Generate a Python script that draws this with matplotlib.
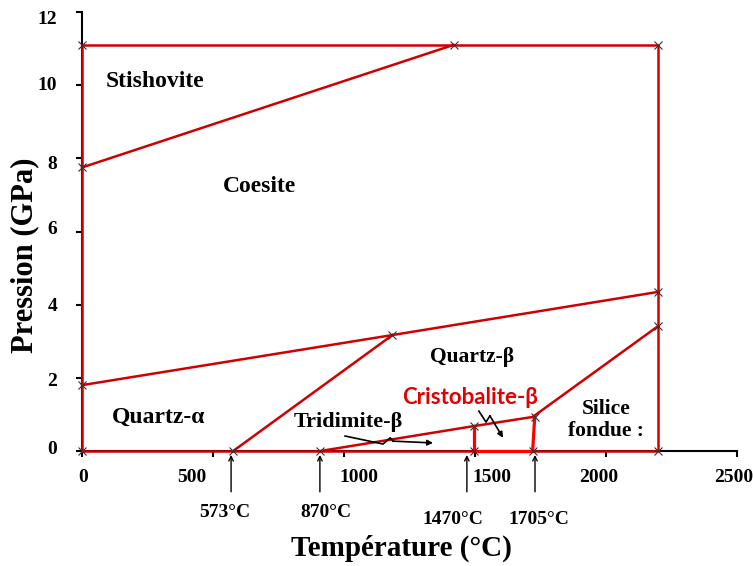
import matplotlib
matplotlib.use("Agg")
import matplotlib.pyplot as plt

# ---- data ----
x_ticks = [0, 500, 1000, 1500, 2000, 2500]
y_ticks = [0, 2, 4, 6, 8, 10, 12]

# phase boundaries (T in °C, P in GPa)
frame_T = [0, 0, 2200, 2200, 0]
frame_P = [0, 11.1, 11.1, 0, 0]
stish_coes_T = [0, 1418]
stish_coes_P = [7.75, 11.1]
coes_quartz_T = [0, 1185, 2200]
coes_quartz_P = [1.8, 3.17, 4.35]
qa_qb_T = [577, 1185]
qa_qb_P = [0, 3.17]
trid_T = [910, 1495, 1720]
trid_P = [0, 0.68, 0.93]
fondue_T = [1720, 2200]
fondue_P = [0.93, 3.42]
crist_left_T = [1495, 1495]
crist_left_P = [0, 0.68]
crist_right_T = [1720, 1728]
crist_right_P = [0, 0.93]
crist_base_T = [1495, 1720]
crist_base_P = [0, 0]

marker_T = [0, 1418, 2200, 0, 0, 2200, 1185, 2200, 2200, 577, 910, 1495, 1495, 1720, 1728, 0]
marker_P = [11.1, 11.1, 11.1, 7.75, 1.8, 4.35, 3.17, 3.42, 0, 0, 0, 0, 0.68, 0, 0.93, 0]

arrow_T = [569, 908, 1469, 1729]
arrow_labels = ["573°C", "870°C", "1470°C", "1705°C"]
arrow_label_T = [546, 931, 1416, 1744]

phase_names = ["Stishovite", "Coesite", "Quartz-β", "Quartz-α", "Silice\nfondue :"]
phase_T = [279, 679, 1489, 294, 2000]
phase_P = [10.09, 7.22, 2.57, 0.93, 0.85]
phase_size = [17, 17, 15.5, 17, 15.5]

trid_squiggle_T = [1004, 1149, 1176, 1187]
trid_squiggle_P = [0.41, 0.19, 0.36, 0.27]
trid_arrow_tip = (1340, 0.22)
crist_squiggle_T = [1515, 1542, 1557]
crist_squiggle_P = [1.09, 0.79, 0.96]
crist_arrow_tip = (1607, 0.36)

# ---- figure ----
W, H = 753, 566
fig = plt.figure(figsize=(W / 100, H / 100), dpi=100)
ax = fig.add_axes([82 / W, (H - 451) / H, (737 - 82) / W, (451 - 12) / H])
ax.set_xlim(0, 2500)
ax.set_ylim(0, 12)

serif = "Liberation Serif"
red = "#d00000"
bright = "#ff0000"
lw = 1.8

for T, P in [(frame_T, frame_P), (stish_coes_T, stish_coes_P), (coes_quartz_T, coes_quartz_P),
             (qa_qb_T, qa_qb_P), (trid_T, trid_P), (fondue_T, fondue_P)]:
    ax.plot(T, P, color=red, lw=lw, clip_on=False, zorder=3)
for T, P in [(crist_left_T, crist_left_P), (crist_right_T, crist_right_P), (crist_base_T, crist_base_P)]:
    ax.plot(T, P, color=bright, lw=2.3, clip_on=False, zorder=3)

ax.plot(marker_T, marker_P, linestyle="none", marker="x", color="#333333",
        ms=6, mew=0.8, clip_on=False, zorder=4)

# spines / ticks
for s in ["top", "right"]:
    ax.spines[s].set_visible(False)
for s in ["left", "bottom"]:
    ax.spines[s].set_color("black")
    ax.spines[s].set_linewidth(1.5)
ax.set_xticks(x_ticks)
ax.set_yticks(y_ticks)
ax.set_xticklabels([])
ax.set_yticklabels([])
ax.tick_params(direction="out", length=4, width=1.5, colors="black")

# tick labels (slightly irregular placement as in the reference), offsets in pixels
x_lab_dx = [1, -21, 15, 17, -7, -3]
for v, dx in zip(x_ticks, x_lab_dx):
    ax.annotate(str(v), xy=(v, 0), xycoords=("data", "axes fraction"),
                xytext=(dx * 0.72, -27 * 0.72), textcoords="offset points",
                ha="center", va="center", fontfamily=serif, fontweight="bold",
                fontsize=14, annotation_clip=False)
y_lab_dy = [-1, 4, 2, -2, 6, 0, 8]
for v, dy in zip(y_ticks, y_lab_dy):
    ax.annotate(str(v), xy=(0, v), xycoords=("axes fraction", "data"),
                xytext=(-25 * 0.72, -dy * 0.72), textcoords="offset points",
                ha="right", va="center", fontfamily=serif, fontweight="bold",
                fontsize=14, annotation_clip=False)

fig.text(401 / W, 1 - 548 / H, "Température (°C)", fontfamily=serif, fontweight="bold",
         fontsize=21, ha="center", va="center")
fig.text(25 / W, 1 - 255 / H, "Pression (GPa)", fontfamily=serif, fontweight="bold",
         fontsize=22, ha="center", va="center", rotation=90)

# phase labels
for name, T, P, fs in zip(phase_names, phase_T, phase_P, phase_size):
    ax.text(T, P, name, fontfamily=serif, fontweight="bold", fontsize=fs,
            ha="center", va="center", linespacing=1.15)
ax.text(1015, 0.79, "Tridimite-β", fontfamily=serif, fontweight="bold", fontsize=16,
        ha="center", va="center")
ax.text(1481, 1.45, "Cristobalite-β", fontfamily="Lato", fontweight="bold", fontsize=16,
        ha="center", va="center", color="#e00000")

# squiggle arrows
ax.plot(trid_squiggle_T, trid_squiggle_P, color="black", lw=1.2, zorder=5)
ax.annotate("", xy=trid_arrow_tip, xytext=(trid_squiggle_T[-1], trid_squiggle_P[-1]),
            arrowprops=dict(arrowstyle="-|>", color="black", lw=1.2, mutation_scale=8,
                            shrinkA=0, shrinkB=0), zorder=5)
ax.plot(crist_squiggle_T, crist_squiggle_P, color="black", lw=1.2, zorder=5)
ax.annotate("", xy=crist_arrow_tip, xytext=(crist_squiggle_T[-1], crist_squiggle_P[-1]),
            arrowprops=dict(arrowstyle="-|>", color="black", lw=1.2, mutation_scale=8,
                            shrinkA=0, shrinkB=0), zorder=5)

# temperature arrows below the axis
trans = ax.get_xaxis_transform()
for T, lab, lT in zip(arrow_T, arrow_labels, arrow_label_T):
    big = T > 1400
    ax.annotate("", xy=(T, -0.009), xytext=(T, -0.093),
                xycoords=trans, textcoords=trans,
                arrowprops=dict(arrowstyle="->", color="black", lw=1.0, mutation_scale=8,
                                shrinkA=0, shrinkB=0), annotation_clip=False)
    ax.text(lT, -0.157 if big else -0.140, lab,
            transform=trans, fontfamily=serif, fontweight="bold", fontsize=14,
            ha="center", va="center")

fig.savefig("out.png", dpi=100, facecolor="white")
